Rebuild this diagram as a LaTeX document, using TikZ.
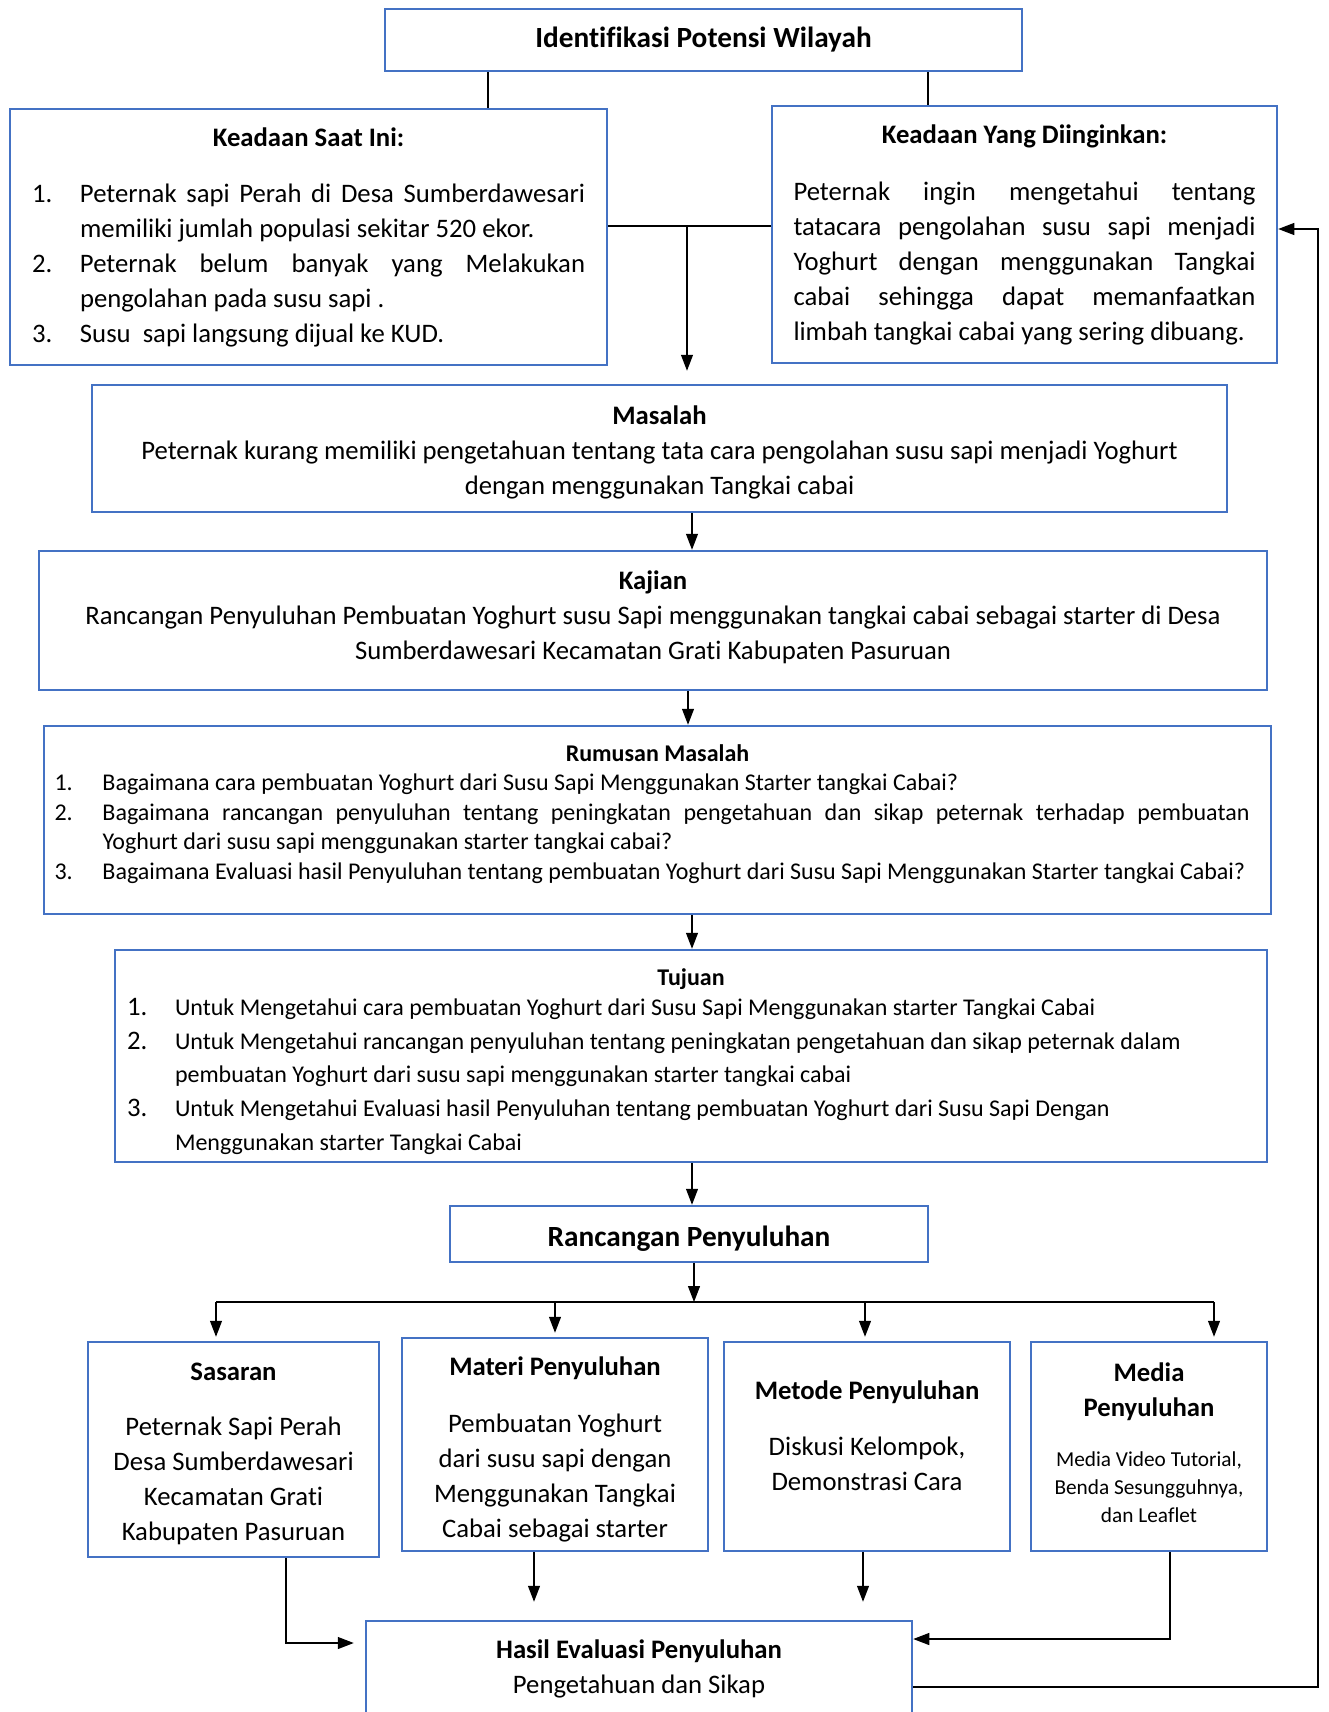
\documentclass[tikz,border=0pt]{standalone}
\usepackage{fontspec}
\setmainfont{Carlito}[Ligatures=NoCommon]
\usetikzlibrary{arrows.meta}
\definecolor{biru}{HTML}{4472C4}
\frenchspacing
\newcommand{\spasi}{\spaceskip=0.226em\relax}
\newcommand{\ukuranA}{\fontsize{26.7}{35}\selectfont\spasi}
\newcommand{\ukuranB}{\fontsize{24}{29.5}\selectfont\spasi}
\newcommand{\ukuranC}{\fontsize{24}{33.75}\selectfont\spasi}
\newcommand{\ukuranD}{\fontsize{21.3}{28}\selectfont\spasi}
\newcommand{\ukuranJ}{\fontsize{29.3}{35}\selectfont\spasi}
\newcommand{\nomor}[2]{\makebox[#1][l]{#2}}
\newcommand{\rata}[2]{\leavevmode\hbox to #1{\spaceskip=0.226em plus 1fil\relax #2}}
\newcommand{\kiri}[2]{\makebox[#1][l]{#2}}
\newcommand{\ganjal}[1]{\rule[-#1]{0pt}{#1}}
\newcommand{\atas}[1]{\rule{0pt}{#1}}

\begin{document}
\begin{tikzpicture}[x=1pt, y=-1pt,
    kotak/.style={draw=biru, line width=2.5pt, inner sep=0pt, align=center, font=\ukuranA,
      execute at begin node=\spasi},
    garis/.style={line width=1.2pt},
    panah/.style={garis, -{Triangle[length=16pt,width=12pt]}}]
  \useasboundingbox (0,0) rectangle (1329,1712);

  % kotak atas
  \node (idp) at (703.5,40) [kotak, minimum width=637pt, minimum height=62pt, font=\ukuranJ\bfseries] {Identifikasi Potensi Wilayah};
  \node (now) at (308.5,237) [kotak, minimum width=597pt, minimum height=256pt, text width=553pt]
    {\textbf{Keadaan Saat Ini:}\\[21pt]
     \nomor{48pt}{1.}\rata{505pt}{Peternak sapi Perah di Desa Sumberdawesari}\\
     \nomor{48pt}{}\kiri{505pt}{memiliki jumlah populasi sekitar 520 ekor.}\\
     \nomor{48pt}{2.}\rata{505pt}{Peternak belum banyak yang Melakukan}\\
     \nomor{48pt}{}\kiri{505pt}{pengolahan pada susu sapi .}\\
     \nomor{48pt}{3.}\kiri{505pt}{Susu\ \ sapi langsung dijual ke KUD.}};
  \node (want) at (1024.5,234.5) [kotak, minimum width=505pt, minimum height=257pt, text width=462pt]
    {\textbf{Keadaan Yang Diinginkan:}\\[22pt]
     \rata{462pt}{Peternak ingin mengetahui tentang}\\
     \rata{462pt}{tatacara pengolahan susu sapi menjadi}\\
     \rata{462pt}{Yoghurt dengan menggunakan Tangkai}\\
     \rata{462pt}{cabai sehingga dapat memanfaatkan}\\
     \kiri{462pt}{limbah tangkai cabai yang sering dibuang.}};

  % kotak tengah
  \node (masalah) at (659.5,448.5) [kotak, minimum width=1135pt, minimum height=127pt, text width=1100pt]
    {\atas{26pt}\textbf{Masalah}\\
     Peternak kurang memiliki pengetahuan tentang tata cara pengolahan susu sapi menjadi Yoghurt\\
     dengan menggunakan Tangkai cabai};
  \node (kajian) at (653,620.5) [kotak, minimum width=1228pt, minimum height=139pt, text width=1200pt]
    {\textbf{Kajian}\\
     Rancangan Penyuluhan Pembuatan Yoghurt susu Sapi menggunakan tangkai cabai sebagai starter di Desa\\
     Sumberdawesari Kecamatan Grati Kabupaten Pasuruan\ganjal{10pt}};
  \node (rumusan) at (657.5,820) [kotak, minimum width=1227pt, minimum height=188pt, text width=1206pt, font=\ukuranB]
    {\textbf{Rumusan Masalah}\\
     \nomor{48pt}{1.}\kiri{1158pt}{Bagaimana cara pembuatan Yoghurt dari Susu Sapi Menggunakan Starter tangkai Cabai?}\\
     \nomor{48pt}{2.}\kiri{1158pt}{\rata{1147pt}{Bagaimana rancangan penyuluhan tentang peningkatan pengetahuan dan sikap peternak terhadap pembuatan}}\\
     \nomor{48pt}{}\kiri{1158pt}{Yoghurt dari susu sapi menggunakan starter tangkai cabai?}\\
     \nomor{48pt}{3.}\kiri{1158pt}{Bagaimana Evaluasi hasil Penyuluhan tentang pembuatan Yoghurt dari Susu Sapi Menggunakan Starter tangkai Cabai?}\ganjal{16pt}};
  \node (tujuan) at (691,1056) [kotak, minimum width=1152pt, minimum height=212pt, text width=1128pt, font=\ukuranC]
    {\atas{28pt}\textbf{Tujuan}\\[-3.75pt]
     \nomor{48pt}{\ukuranA 1.}\kiri{1080pt}{Untuk Mengetahui cara pembuatan Yoghurt dari Susu Sapi Menggunakan starter Tangkai Cabai}\\
     \nomor{48pt}{\ukuranA 2.}\kiri{1080pt}{Untuk Mengetahui rancangan penyuluhan tentang peningkatan pengetahuan dan sikap peternak dalam}\\
     \nomor{48pt}{}\kiri{1080pt}{pembuatan Yoghurt dari susu sapi menggunakan starter tangkai cabai}\\
     \nomor{48pt}{\ukuranA 3.}\kiri{1080pt}{Untuk Mengetahui Evaluasi hasil Penyuluhan tentang pembuatan Yoghurt dari Susu Sapi Dengan}\\
     \nomor{48pt}{}\kiri{1080pt}{Menggunakan starter Tangkai Cabai}};
  \node (rp) at (689,1234) [kotak, minimum width=478pt, minimum height=56pt, font=\ukuranJ\bfseries] {\atas{30pt}Rancangan Penyuluhan};

  % kotak bawah
  \node (sasaran) at (233.5,1449.5) [kotak, minimum width=291pt, minimum height=215pt, text width=270pt]
    {\atas{26.5pt}\textbf{Sasaran}\\[20.5pt]
     Peternak Sapi Perah\\ Desa Sumberdawesari\\ Kecamatan Grati\\ Kabupaten Pasuruan};
  \node (materi) at (555,1444.5) [kotak, minimum width=306pt, minimum height=213pt, text width=290pt]
    {\atas{28.5pt}\textbf{Materi Penyuluhan}\\[22pt]
     Pembuatan Yoghurt\\ dari susu sapi dengan\\ Menggunakan Tangkai\\ Cabai sebagai starter};
  \node (metode) at (867,1446.5) [kotak, minimum width=286pt, minimum height=209pt, text width=270pt]
    {\textbf{Metode Penyuluhan}\\[21pt]
     Diskusi Kelompok,\\ Demonstrasi Cara\ganjal{21pt}};
  \node (media) at (1149,1446.5) [kotak, minimum width=236pt, minimum height=209pt, text width=220pt]
    {\textbf{Media}\\ \textbf{Penyuluhan}\\[22.3pt]
     {\ukuranD Media Video Tutorial,\\ Benda Sesungguhnya,\\ dan Leaflet\ganjal{8.4pt}\par}};
  \node (hasil) at (639,1668.5) [kotak, minimum width=546pt, minimum height=95pt, text width=500pt]
    {\textbf{Hasil Evaluasi Penyuluhan}\\ Pengetahuan dan Sikap};

  % penghubung
  \coordinate (pusat) at (687,226);
  \coordinate (cabang) at (694,1302);
  \draw[garis] (idp.south -| 488,0) -- (now.north -| 488,0);
  \draw[garis] (idp.south -| 928,0) -- (want.north -| 928,0);
  \draw[garis] (now.east |- pusat) -- (want.west |- pusat);
  \draw[panah, shorten >=13pt] (pusat) -- (masalah.north -| pusat);
  \draw[panah] (masalah.south -| 692,0) -- (kajian.north -| 692,0);
  \draw[panah] (kajian.south -| 688,0) -- (rumusan.north -| 688,0);
  \draw[panah] (rumusan.south -| 692,0) -- (tujuan.north -| 692,0);
  \draw[panah] (tujuan.south -| 692,0) -- (rp.north -| 692,0);
  \draw[panah] (rp.south -| cabang) -- (cabang);
  \draw[garis] (216,1302) -- (1214,1302);
  \foreach \x/\n in {216/sasaran, 555/materi, 865/metode, 1214/media}
    \draw[panah, shorten >=4pt] (\x,1302) -- (\n.north -| \x,0);
  \draw[panah, shorten >=11pt] (sasaran.south -| 286,0) |- (hasil.west |- 0,1643);
  \draw[panah, shorten >=18pt] (materi.south -| 534,0) -- (hasil.north -| 534,0);
  \draw[panah, shorten >=18pt] (metode.south -| 863,0) -- (hasil.north -| 863,0);
  \draw[panah] (media.south -| 1170,0) |- (hasil.east |- 0,1639);
  \draw[panah] (hasil.east |- 0,1687) -| (1318,229) -- (want.east |- 0,229);

\end{tikzpicture}
\end{document}
